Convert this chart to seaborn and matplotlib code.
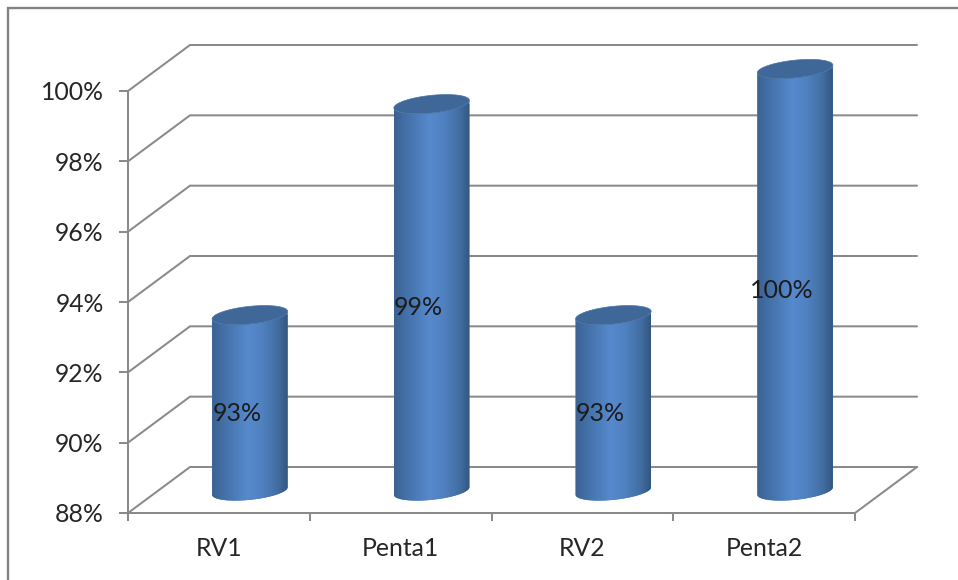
import numpy as np
import matplotlib
matplotlib.use("Agg")
import matplotlib.pyplot as plt
import matplotlib.colors as mcolors
import matplotlib.patches as mpatches
import matplotlib.transforms as mtrans
from matplotlib.lines import Line2D
from matplotlib.path import Path
import pandas as pd
import seaborn as sns

categories = ["RV1", "Penta1", "RV2", "Penta2"]
values = [93, 99, 93, 100]
y_ticks = [88, 90, 92, 94, 96, 98, 100]

GREY = "#8a8a8a"
TEXT = "#262626"
FONT = "Lato"
W, H = 958, 580

sns.set_style("white")
plt.rcParams["font.family"] = [FONT, "DejaVu Sans"]

fig = plt.figure(figsize=(W / 100, H / 100), dpi=100)
# Front plane of the pseudo-3D plot box, placed in pixel terms
left, right, top, bottom = 128, 855, 91, 513
ax = fig.add_axes([left / W, 1 - bottom / H, (right - left) / W, (bottom - top) / H])
ax.patch.set_alpha(0)

df = pd.DataFrame({"category": categories, "value": values})
sns.barplot(data=df, x="category", y="value", color="#4f81bd", saturation=1,
            width=0.418, linewidth=0, ax=ax, zorder=3)
x0, x1 = -0.5, 3.5
y0, y1 = y_ticks[0], y_ticks[-1]
ax.set_xlim(x0, x1)
ax.set_ylim(y0, y1)

# Depth of the box: back wall sits up and to the right of the front plane
depth_x, depth_y = 62, 46
dx = depth_x / (right - left) * (x1 - x0)
dy = depth_y / (bottom - top) * (y1 - y0)
for t in y_ticks:
    ax.plot([x0, x0 + dx, x1 + dx], [t, t + dy, t + dy], color=GREY, lw=1.45,
            clip_on=False, zorder=1, solid_joinstyle="miter")
ax.plot([x1, x1 + dx], [y0, y0 + dy], color=GREY, lw=1.45, clip_on=False, zorder=1)

# Cylinders stand close to half way through the depth of the box
shift = mtrans.ScaledTranslation(depth_x / 2 / 100, 22 / 100, fig.dpi_scale_trans)
bar_trans = ax.transData + shift

shade = mcolors.LinearSegmentedColormap.from_list(
    "cylinder",
    [(0.0, "#3c6291"), (0.12, "#416da3"), (0.47, "#5689cd"), (0.65, "#5082c2"),
     (0.88, "#416c9f"), (1.0, "#32567f")])
ramp = np.linspace(0, 1, 256).reshape(1, -1)


def rim(cx, cy, a, b, theta, t):
    """Points on a slightly tilted ellipse, in display pixels."""
    return np.column_stack([
        cx + a * np.cos(t) * np.cos(theta) - b * np.sin(t) * np.sin(theta),
        cy + a * np.cos(t) * np.sin(theta) + b * np.sin(t) * np.cos(theta),
    ])


tilt = np.radians(6)
minor_axis = 8.8
for bar, v in zip(ax.patches, values):
    xa = bar.get_x()
    xb = xa + bar.get_width()
    (pa, pb) = bar_trans.transform([(xa, y0), (xb, v)])
    cx = (pa[0] + pb[0]) / 2
    a = (pb[0] - pa[0]) / 2
    lower = rim(cx, pa[1], a, minor_axis, tilt, np.linspace(np.pi, 2 * np.pi, 60))
    upper = rim(cx, pb[1], a, minor_axis, tilt, np.linspace(2 * np.pi, np.pi, 60))
    outline = Path(np.vstack([lower, upper, lower[:1]]))

    bar.set_transform(bar_trans)
    bar.set_clip_box(fig.bbox)
    bar.set_clip_path(outline, mtrans.IdentityTransform())

    im = ax.imshow(ramp, cmap=shade, aspect="auto", interpolation="bilinear",
                   extent=(xa, xb, y0 - 1, v + 1), zorder=4)
    im.set_transform(bar_trans)
    im.set_clip_box(fig.bbox)
    im.set_clip_path(outline, mtrans.IdentityTransform())

    cap = rim(cx, pb[1], a, minor_axis, tilt, np.linspace(0, 2 * np.pi, 120))
    ax.add_patch(mpatches.Polygon(cap, closed=True, transform=mtrans.IdentityTransform(),
                                  facecolor="#3f6797", edgecolor="#4a74a6", lw=0.5,
                                  clip_on=False, zorder=5))

ax.set_xlim(x0, x1)
ax.set_ylim(y0, y1)

# Value labels
for i, v in enumerate(values):
    ax.annotate(f"{v}%", xy=(i, (y0 + v) / 2), xytext=(18 * 0.72, 12 * 0.72),
                textcoords="offset points", ha="center", va="center",
                fontsize=18, color="#1c1c1c", zorder=6, annotation_clip=False)

# Axes: boundaries carry tick marks, category names sit between them
ax.set_xlabel("")
ax.set_ylabel("")
ax.set_yticks(y_ticks)
ax.set_yticklabels([f"{t}%" for t in y_ticks])
ax.set_xticks(np.arange(x0, x1 + 0.5, 1))
ax.set_xticklabels([])
ax.set_xticks(range(len(categories)), labels=categories, minor=True)
ax.tick_params(axis="y", which="major", left=True, length=6.5, width=1.45, color=GREY,
               labelsize=17.8, labelcolor=TEXT, pad=11)
ax.tick_params(axis="x", which="major", bottom=True, length=6, width=1.45, color=GREY)
ax.tick_params(axis="x", which="minor", bottom=False, length=0, labelsize=17.8,
               labelcolor=TEXT, pad=17)
sns.despine(ax=ax, top=True, right=True)
for side in ("left", "bottom"):
    ax.spines[side].set_color(GREY)
    ax.spines[side].set_linewidth(1.45)
    ax.spines[side].set_zorder(2)

# Chart-area frame along the top and left edges
fig.add_artist(Line2D([7.5 / W, 7.5 / W, 1], [0, 1 - 7.5 / H, 1 - 7.5 / H],
                      color="#828282", lw=1.7, solid_joinstyle="miter"))

fig.savefig("out.png", dpi=100)
